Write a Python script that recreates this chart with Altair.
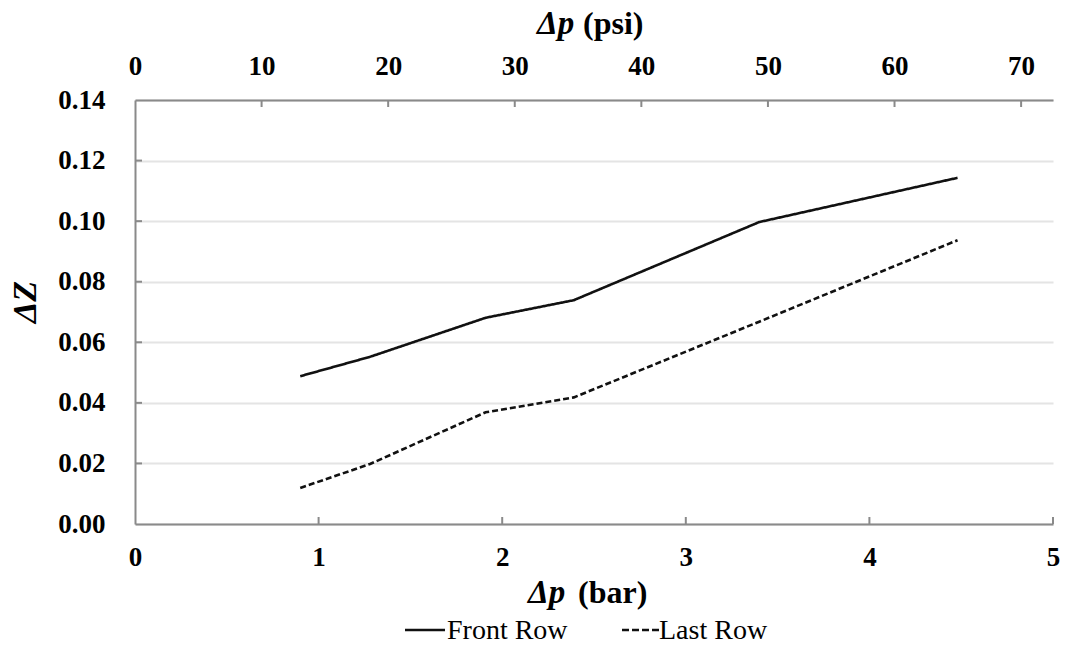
import altair as alt
import pandas as pd

# ---- data ----
series_names = ["Front Row", "Last Row"]
bar_front = [0.9, 1.28, 1.91, 2.39, 3.4, 4.48]
z_front = [0.0488, 0.0552, 0.0681, 0.0739, 0.0997, 0.1143]
bar_last = [0.9, 1.28, 1.91, 2.39, 3.4, 4.48]
z_last = [0.0119, 0.0198, 0.0369, 0.0418, 0.0668, 0.0937]

bar_ticks = [0, 1, 2, 3, 4, 5]
psi_ticks = [0, 10, 20, 30, 40, 50, 60, 70]
y_ticks = [0.0, 0.02, 0.04, 0.06, 0.08, 0.10, 0.12, 0.14]
PSI_PER_BAR = 14.5038

W, H = 918, 424
FONT = "Liberation Serif"
AXIS_GREY = "#8a8a8a"

df = pd.DataFrame({
    "bar": bar_front + bar_last,
    "z": z_front + z_last,
    "series": [series_names[0]] * len(bar_front) + [series_names[1]] * len(bar_last),
})

xscale = alt.Scale(domain=[0, 5], nice=False, zero=False)
yscale = alt.Scale(domain=[0, 0.14], nice=False)

x_axis = alt.Axis(values=bar_ticks, format="d", title=None, labelFont=FONT,
                  labelFontWeight="bold", labelFontSize=27, labelColor="#000",
                  domainColor=AXIS_GREY, domainWidth=2, tickSize=0, labelPadding=20,
                  grid=False, labelFlush=False)
y_axis = alt.Axis(values=y_ticks, format=".2f", title=None, labelFont=FONT,
                  labelFontWeight="bold", labelFontSize=27, labelColor="#000",
                  domainColor=AXIS_GREY, domainWidth=2, tickSize=0, labelPadding=30,
                  grid=True, gridColor="#e4e4e4", gridWidth=2)

lines = alt.Chart(df).mark_line(color="#111", strokeWidth=2.6).encode(
    x=alt.X("bar:Q", scale=xscale, axis=x_axis),
    y=alt.Y("z:Q", scale=yscale, axis=y_axis),
    strokeDash=alt.StrokeDash("series:N", scale=alt.Scale(domain=series_names, range=[[1, 0], [6, 3]]), legend=None),
    detail="series:N",
)

bottom_ticks = alt.Chart(pd.DataFrame({"bar": bar_ticks[1:]})).mark_rule(color=AXIS_GREY, strokeWidth=2).encode(
    x=alt.X("bar:Q", scale=xscale, axis=x_axis),
    y=alt.value(H),
    y2=alt.value(H - 7),
)

left_ticks = alt.Chart(pd.DataFrame({"z": y_ticks[1:-1]})).mark_rule(color=AXIS_GREY, strokeWidth=2).encode(
    y=alt.Y("z:Q", scale=yscale, axis=y_axis),
    x=alt.value(0),
    x2=alt.value(7),
)

top_layer = alt.Chart(pd.DataFrame({"psi": psi_ticks[1:]})).mark_rule(color=AXIS_GREY, strokeWidth=2).encode(
    x=alt.X("psi:Q", scale=alt.Scale(domain=[0, 5 * PSI_PER_BAR], nice=False, zero=False),
            axis=alt.Axis(orient="top", values=psi_ticks, format="d", title=None, labelFont=FONT,
                          labelFontWeight="bold", labelFontSize=27, labelColor="#000",
                          domainColor=AXIS_GREY, domainWidth=2, tickSize=0, labelPadding=20,
                          grid=False, labelFlush=False)),
    y=alt.value(0),
    y2=alt.value(7),
)

one = pd.DataFrame({"a": [0]})

def txt(text, x, y, size, weight="bold", style="normal", align="left", baseline="alphabetic", angle=0):
    return alt.Chart(one).mark_text(text=text, font=FONT, fontSize=size, fontWeight=weight,
                                    fontStyle=style, align=align, baseline=baseline, angle=angle,
                                    color="#000").encode(x=alt.value(x), y=alt.value(y))

titles = [
    txt("Δp", 393, 503, 33, style="italic"),
    txt("(bar)", 443, 503, 32),
    txt("Δp", 402, -66, 33, style="italic"),
    txt("(psi)", 448, -66, 32),
    txt("ΔZ", -109, 202, 34, style="italic", align="center", baseline="middle", angle=270),
    txt(series_names[0], 312, 531, 28, weight="normal", baseline="middle"),
    txt(series_names[1], 524, 531, 28, weight="normal", baseline="middle"),
]

leg_solid = alt.Chart(one).mark_rule(color="#111", strokeWidth=2.6).encode(
    x=alt.value(270), x2=alt.value(310), y=alt.value(530), y2=alt.value(530))
leg_dash = alt.Chart(one).mark_rule(color="#111", strokeWidth=2.6, strokeDash=[7, 3]).encode(
    x=alt.value(487), x2=alt.value(524), y=alt.value(530), y2=alt.value(530))

base = alt.layer(lines, bottom_ticks, left_ticks, leg_solid, leg_dash, *titles)
chart = alt.layer(base, top_layer).resolve_scale(x="independent").properties(
    width=W, height=H,
    autosize=alt.AutoSizeParams(type="none"),
    padding={"left": 135, "top": 100, "right": 13, "bottom": 125},
    background="white",
).configure_view(stroke=None)

chart.save("out.html", embed_options={"renderer": "svg", "actions": False})
